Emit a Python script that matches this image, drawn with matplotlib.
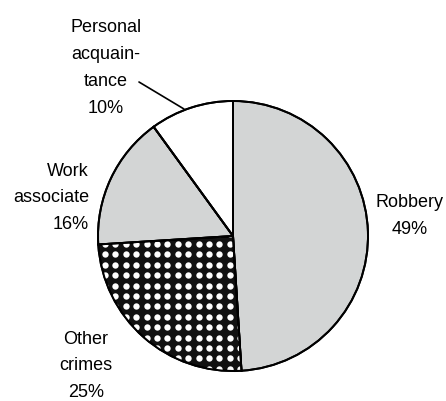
import numpy as np
import matplotlib
matplotlib.use("Agg")
import matplotlib.pyplot as plt
import matplotlib.patches as mpatches

# slice data, clockwise from 12 o'clock
labels = ["Robbery", "Other\ncrimes", "Work\nassociate", "Personal\nacquain-\ntance"]
shares = [49, 25, 16, 10]
colors = ["#d3d5d5", "#111111", "#d3d5d5", "#ffffff"]

W, H = 446, 402
CX, CY, R = 233, 237, 135   # pie centre / radius in pixels


def px(x, y):
    # pixel position (from top-left) -> data units
    return (x - CX) / R, (CY - y) / R


plt.rcParams['font.family'] = ['Liberation Sans', 'DejaVu Sans']
fig = plt.figure(figsize=(W / 100, H / 100), dpi=100)
ax = fig.add_axes([0, 0, 1, 1])

wedges, _ = ax.pie(shares, colors=colors, startangle=90, counterclock=False,
                   radius=1, wedgeprops=dict(edgecolor='black', linewidth=1.4))
ax.set_xlim(-CX / R, (W - CX) / R)
ax.set_ylim(-(H - CY) / R, CY / R)
ax.axis('off')

# white dot screen on the "other crimes" slice
step = 10.4 / R
x0, y0 = px(105, 245)
k = np.arange(-15, 30)
xx, yy = np.meshgrid(x0 + k * step, y0 + k * step)
dots = ax.scatter(xx.ravel(), yy.ravel(), s=21, c='white', marker='o',
                  linewidths=0, zorder=2)
dots.set_clip_path(wedges[1])

# redraw outlines above the dots
for w in wedges:
    ax.add_patch(mpatches.Wedge(w.center, w.r, w.theta1, w.theta2, fill=False,
                                edgecolor='black', linewidth=1.4, zorder=3))

fs = 13
ls = 1.75
ax.text(*px(410, 216), labels[0] + "\n%d%%" % shares[0], ha='center', va='center',
        fontsize=fs, linespacing=ls)
ax.text(*px(86, 366), labels[1] + "\n%d%%" % shares[1], ha='center', va='center',
        fontsize=fs, linespacing=ls)
ax.text(*px(89, 198), labels[2] + "\n%d%%" % shares[2], ha='right', va='center',
        fontsize=fs, linespacing=ls, multialignment='right')
ax.text(*px(106, 68), labels[3] + "\n%d%%" % shares[3], ha='center', va='center',
        fontsize=fs, linespacing=ls)
ax.annotate("", xy=px(184, 110), xytext=px(139, 83),
            arrowprops=dict(arrowstyle='-', color='black', lw=1.2,
                            shrinkA=0, shrinkB=0))

fig.savefig("out.png", dpi=100, facecolor='white')
